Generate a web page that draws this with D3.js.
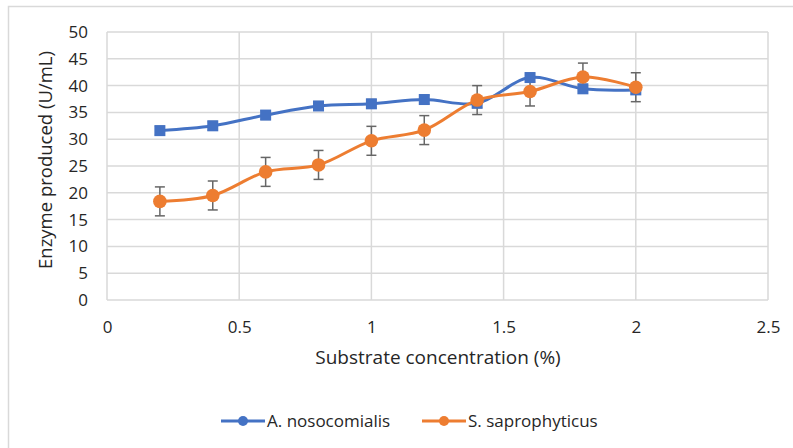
<!DOCTYPE html>
<html><head><meta charset="utf-8">
<script src="https://cdn.jsdelivr.net/npm/d3@7"></script>
<style>body{margin:0;background:#fff}svg{display:block}text{font-family:"Open Sans",sans-serif;fill:#262626}</style>
</head><body><svg id="c" width="793" height="448"></svg>
<script>
const concentrations = [0.2,0.4,0.6,0.8,1.0,1.2,1.4,1.6,1.8,2.0];
const nosocomialis = [31.6,32.5,34.5,36.2,36.6,37.4,36.7,41.5,39.4,39.2];
const nosocomialisErr = [0.8,0.8,0.8,0.8,0.8,0.8,0.8,0.8,0.8,0.8];
const saprophyticus = [18.4,19.5,23.9,25.2,29.7,31.7,37.3,38.9,41.6,39.7];
const saprophyticusErr = [2.7,2.7,2.7,2.7,2.7,2.7,2.7,2.7,2.6,2.7];
const xTicks = [0,0.5,1,1.5,2,2.5];
const yTicks = [0,5,10,15,20,25,30,35,40,45,50];
const seriesNames = ["A. nosocomialis","S. saprophyticus"];

const svg = d3.select("#c");
const L=107,R=768,T=32,B=300;
const x = d3.scaleLinear().domain([0,2.5]).range([L,R]);
const y = d3.scaleLinear().domain([0,50]).range([B,T]);
const grid="#d9d9d9";
const txt="#262626";

svg.append("rect").attr("x",8.5).attr("y",6.5).attr("width",800).attr("height",460)
  .attr("fill","none").attr("stroke","#d9d9d9").attr("stroke-width",1.5);

const g = svg.append("g");
g.selectAll(".hg").data(yTicks).join("line")
  .attr("x1",L).attr("x2",R).attr("y1",d=>y(d)).attr("y2",d=>y(d))
  .attr("stroke",grid).attr("stroke-width",1.5);
g.selectAll(".vg").data(xTicks).join("line")
  .attr("y1",T).attr("y2",B).attr("x1",d=>x(d)).attr("x2",d=>x(d))
  .attr("stroke",grid).attr("stroke-width",1.5);

const yAxis = svg.append("g").attr("transform",`translate(${L},0)`)
  .call(d3.axisLeft(y).tickValues(yTicks).tickSize(0).tickPadding(19));
yAxis.select(".domain").remove();
yAxis.selectAll("text").style("font-size","17px").attr("fill",txt).style("font-family","Open Sans");

const xAxis = svg.append("g").attr("transform",`translate(0,${B})`)
  .call(d3.axisBottom(x).tickValues(xTicks).tickSize(0).tickPadding(21).tickFormat(d3.format("")));
xAxis.select(".domain").remove();
xAxis.selectAll("text").style("font-size","17px").attr("fill",txt).style("font-family","Open Sans");

svg.append("text").attr("x",438).attr("y",364).attr("text-anchor","middle")
  .style("font-size","19px").text("Substrate concentration (%)");
svg.append("text").attr("transform",`translate(52,160) rotate(-90)`).attr("text-anchor","middle")
  .style("font-size","18.5px").text("Enzyme produced (U/mL)");

const colors=["#4472C4","#ED7D31"];
const series=[
  {vals:nosocomialis,err:nosocomialisErr,c:colors[0],shape:"sq"},
  {vals:saprophyticus,err:saprophyticusErr,c:colors[1],shape:"ci"}
];
const line = d3.line().x(d=>x(d[0])).y(d=>y(d[1])).curve(d3.curveCatmullRom.alpha(0.5));

series.forEach(s=>{
  const pts = concentrations.map((c,i)=>[c,s.vals[i],s.err[i]]);
  const eg = svg.append("g").attr("stroke","#666").attr("stroke-width",1.5);
  pts.forEach(p=>{
    eg.append("line").attr("x1",x(p[0])).attr("x2",x(p[0])).attr("y1",y(p[1]-p[2])).attr("y2",y(p[1]+p[2]));
    [p[1]-p[2],p[1]+p[2]].forEach(v=>eg.append("line").attr("x1",x(p[0])-5).attr("x2",x(p[0])+5).attr("y1",y(v)).attr("y2",y(v)));
  });
});
series.forEach(s=>{
  const pts = concentrations.map((c,i)=>[c,s.vals[i]]);
  svg.append("path").datum(pts).attr("d",line).attr("fill","none").attr("stroke",s.c).attr("stroke-width",3);
  if(s.shape==="sq"){
    svg.selectAll(null).data(pts).join("rect").attr("x",d=>x(d[0])-5.5).attr("y",d=>y(d[1])-5.5)
      .attr("width",11).attr("height",11).attr("fill",s.c);
  } else {
    svg.selectAll(null).data(pts).join("circle").attr("cx",d=>x(d[0])).attr("cy",d=>y(d[1])).attr("r",6.8).attr("fill",s.c);
  }
});

const leg = svg.append("g");
const legX=[221,422];
seriesNames.forEach((n,i)=>{
  const lx=legX[i], ly=421;
  leg.append("line").attr("x1",lx).attr("x2",lx+44).attr("y1",ly).attr("y2",ly).attr("stroke",colors[i]).attr("stroke-width",3);
  leg.append("circle").attr("cx",lx+22).attr("cy",ly).attr("r",5).attr("fill",colors[i]);
  leg.append("text").attr("x",lx+46).attr("y",ly+6).style("font-size","17px").text(n);
});
</script></body></html>
